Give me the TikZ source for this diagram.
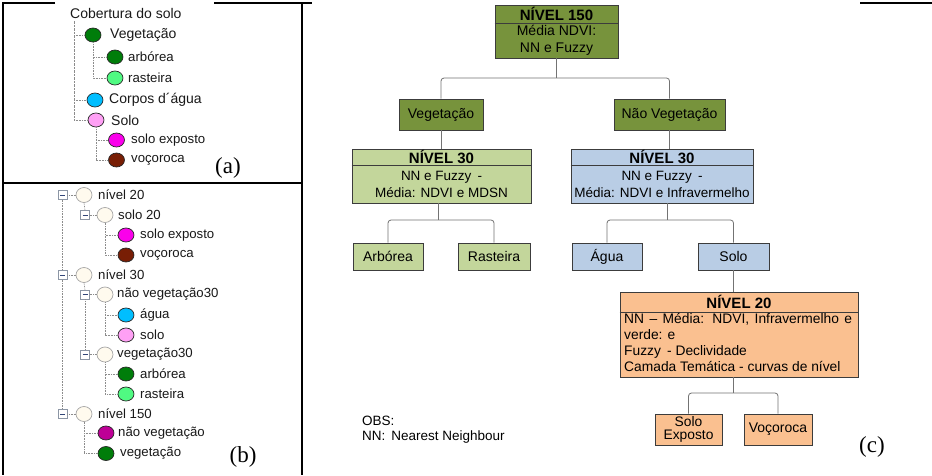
\documentclass[tikz,border=0pt]{standalone}
\usepackage{fontspec}
\setmainfont{Liberation Sans}
\newfontfamily\capserif{Liberation Serif}
\usetikzlibrary{shapes.geometric}
\definecolor{oliv}{RGB}{119,147,60}
\definecolor{lgreen}{RGB}{195,214,155}
\definecolor{lblue}{RGB}{185,205,229}
\definecolor{lorange}{RGB}{250,192,144}
\definecolor{boxline}{RGB}{60,60,60}
\definecolor{connc}{RGB}{115,115,115}
\definecolor{cveg}{RGB}{0,125,10}
\definecolor{craste}{RGB}{80,250,130}
\definecolor{cagua}{RGB}{0,190,255}
\definecolor{csolo}{RGB}{255,160,245}
\definecolor{cexp}{RGB}{250,0,235}
\definecolor{cvoc}{RGB}{120,30,5}
\definecolor{cnveg}{RGB}{190,0,150}
\definecolor{cempty}{RGB}{255,250,238}
\definecolor{treeline}{RGB}{140,140,140}
\definecolor{mboxc}{RGB}{140,150,165}
\definecolor{minusc}{RGB}{50,70,120}
\newcommand\fsA{\fontsize{14}{16}\selectfont}
\newcommand\fsB{\fontsize{13.2}{15}\selectfont}
\newcommand\fsBox{\fontsize{14}{16.5}\selectfont}
\newcommand\fsBody{\fontsize{13.5}{16.5}\selectfont}
\newcommand\fsHead{\fontsize{15}{17}\selectfont\bfseries}
\newcommand\fsCap{\capserif\fontsize{23}{26}\selectfont}
\tikzset{
  box/.style={draw=boxline, line width=0.8pt, inner sep=0pt, font=\fsBox, align=center},
  conn/.style={draw=connc, line width=0.8pt, rounded corners=3pt},
  tree/.style={draw=treeline, line width=0.6pt, dash pattern=on 0.8pt off 0.8pt},
  treedash/.style={draw=treeline, line width=0.9pt, dash pattern=on 2.5pt off 1pt},
  dotn/.style={ellipse, draw=black!85, line width=0.7pt, minimum width=16pt, minimum height=14pt, inner sep=0pt},
  emptyn/.style={ellipse, draw=black!35, fill=cempty, line width=0.7pt, minimum width=16pt, minimum height=15pt, inner sep=0pt},
  mbox/.style={draw=mboxc, fill=white, line width=0.6pt, minimum size=9pt, inner sep=0pt,
    path picture={\draw[minusc, line width=0.9pt] ([xshift=2pt]path picture bounding box.west) -- ([xshift=-2pt]path picture bounding box.east);}},
  lab/.style={anchor=west, inner sep=0pt, text=black!90},
  frame/.style={draw=black, line width=1.3pt},
}
\begin{document}
\begin{tikzpicture}[x=1pt,y=-1pt]
\useasboundingbox (0,0) rectangle (932,475);
\fill[white] (0,0) rectangle (932,475);

% ---------- frames ----------
\draw[frame] (55,3) -- (3,3) -- (3,475);
\draw[frame] (214,3) -- (312,3);
\draw[frame] (302,3) -- (302,475);
\draw[frame] (3,183) -- (302,183);
\draw[frame] (860,3) -- (932,3);

% ---------- panel (a) ----------
\node[lab, font=\fsA] (root) at (70,13) {Cobertura do solo};
\node[dotn, fill=cveg] (aveg) at (93,35) {};
\node[lab, font=\fsA] (avegt) at (110,35) {Vegetação};
\node[dotn, fill=cveg] (aarb) at (115,57) {};
\node[lab, font=\fsB] (aarbt) at (128,57) {arbórea};
\node[dotn, fill=craste] (aras) at (115,78) {};
\node[lab, font=\fsB] (arast) at (128,78) {rasteira};
\node[dotn, fill=cagua] (aagua) at (95,100) {};
\node[lab, font=\fsA] (aaguat) at (109,100) {Corpos d´água};
\node[dotn, fill=csolo] (asolo) at (96,120) {};
\node[lab, font=\fsA] (asolot) at (111,120) {Solo};
\node[dotn, fill=cexp] (aexp) at (116.5,140) {};
\node[lab, font=\fsB] (aexpt) at (131,140) {solo exposto};
\node[dotn, fill=cvoc] (avoc) at (116.5,160) {};
\node[lab, font=\fsB] (avoct) at (131,160) {voçoroca};
\node[font=\fsCap, inner sep=0pt] (capa) at (228,168) {(a)};

\draw[treedash] ([xshift=4pt,yshift=-3pt]root.south west) -- ([xshift=4pt]root.south west |- asolo.west);
\draw[tree] ([xshift=4pt]root.south west |- aveg.west) -- (aveg.west);
\draw[tree] ([xshift=4pt]root.south west |- aagua.west) -- (aagua.west);
\draw[tree] ([xshift=4pt]root.south west |- asolo.west) -- (asolo.west);
\draw[tree] (aveg.south) |- (aarb.west);
\draw[tree] (aveg.south) |- (aras.west);
\draw[tree] (asolo.south) |- (aexp.west);
\draw[tree] (asolo.south) |- (avoc.west);

% ---------- panel (b) ----------
\node[mbox] (mb20) at (62.5,195) {};
\node[emptyn] (c20) at (84,195) {};
\node[lab, font=\fsB] (t20) at (98,195) {nível 20};
\node[mbox] (ms20) at (85,215) {};
\node[emptyn] (cs20) at (105,215) {};
\node[lab, font=\fsB] (ts20) at (118,215) {solo 20};
\node[dotn, fill=cexp] (bexp) at (126,235) {};
\node[lab, font=\fsB] (bexpt) at (140,235) {solo exposto};
\node[dotn, fill=cvoc] (bvoc) at (126,255) {};
\node[lab, font=\fsB] (bvoct) at (140,255) {voçoroca};

\node[mbox] (mb30) at (62.5,275) {};
\node[emptyn] (c30) at (84,275) {};
\node[lab, font=\fsB] (t30) at (98,275) {nível 30};
\node[mbox] (mnv30) at (85,294.5) {};
\node[emptyn] (cnv30) at (105,294.5) {};
\node[lab, font=\fsB] (tnv30) at (117,294.5) {não vegetação30};
\node[dotn, fill=cagua] (bagua) at (126,315) {};
\node[lab, font=\fsB] (baguat) at (140,315) {água};
\node[dotn, fill=csolo] (bsolo) at (126,335) {};
\node[lab, font=\fsB] (bsolot) at (140,335) {solo};
\node[mbox] (mv30) at (85,354.5) {};
\node[emptyn] (cv30) at (105,354.5) {};
\node[lab, font=\fsB] (tv30) at (117,354.5) {vegetação30};
\node[dotn, fill=cveg] (barb) at (126,374) {};
\node[lab, font=\fsB] (barbt) at (140,374) {arbórea};
\node[dotn, fill=craste] (bras) at (126,394) {};
\node[lab, font=\fsB] (brast) at (140,394) {rasteira};

\node[mbox] (mb150) at (62.5,414) {};
\node[emptyn] (c150) at (84,414) {};
\node[lab, font=\fsB] (t150) at (98,414) {nível 150};
\node[dotn, fill=cnveg] (bnveg) at (106,433) {};
\node[lab, font=\fsB] (bnvegt) at (118,433) {não vegetação};
\node[dotn, fill=cveg] (bvegc) at (106,453.5) {};
\node[lab, font=\fsB] (bvegt) at (120,453.5) {vegetação};
\node[font=\fsCap, inner sep=0pt] (capb) at (243,457) {(b)};

\draw[tree] (mb20.south) -- (mb30.north);
\draw[tree] (mb30.south) -- (mb150.north);
\draw[tree] (mb20.east) -- (c20.west);
\draw[tree] (mb30.east) -- (c30.west);
\draw[tree] (mb150.east) -- (c150.west);
\draw[tree] (ms20.east) -- (cs20.west);
\draw[tree] (mnv30.east) -- (cnv30.west);
\draw[tree] (mv30.east) -- (cv30.west);
\draw[tree] (c20.south) -- (ms20.north);
\draw[tree] (c30.south) -- (mnv30.north);
\draw[tree] (mnv30.south) -- (mv30.north);
\draw[tree] (cs20.south) |- (bexp.west);
\draw[tree] (cs20.south) |- (bvoc.west);
\draw[tree] (cnv30.south) |- (bagua.west);
\draw[tree] (cnv30.south) |- (bsolo.west);
\draw[tree] (cv30.south) |- (barb.west);
\draw[tree] (cv30.south) |- (bras.west);
\draw[tree] (c150.south) |- (bnveg.west);
\draw[tree] (c150.south) |- (bvegc.west);

% ---------- panel (c) ----------
\node[box, fill=oliv, minimum width=123pt, minimum height=53pt] (n150) at (556.5,31.5) {};
\draw[boxline, line width=0.8pt] (n150.west |- 0,23) -- (n150.east |- 0,23);
\node[font=\fsHead, inner sep=0pt] (n150h) at (556.5,14) {NÍVEL 150};
\node[font=\fsBox, align=center, inner sep=0pt] (n150b) at (556.5,40.5) {Média NDVI:\\NN e Fuzzy};

\node[box, fill=oliv, minimum width=84pt, minimum height=31pt] (veg) at (441,114.5) {Vegetação};
\node[box, fill=oliv, minimum width=111pt, minimum height=31pt] (nveg) at (669.5,114.5) {Não Vegetação};

\node[box, fill=lgreen, minimum width=179pt, minimum height=54pt] (n30g) at (441.5,176) {};
\draw[boxline, line width=0.8pt] (n30g.west |- 0,165) -- (n30g.east |- 0,165);
\node[font=\fsHead, inner sep=0pt] (n30gh) at (441.5,157) {NÍVEL 30};
\node[font=\fsBody, align=center, inner sep=0pt] (n30gb) at (441.5,184.5) {NN e Fuzzy \,-\\Média: NDVI e MDSN};

\node[box, fill=lblue, minimum width=182pt, minimum height=54pt] (n30b) at (662,176) {};
\draw[boxline, line width=0.8pt] (n30b.west |- 0,165) -- (n30b.east |- 0,165);
\node[font=\fsHead, inner sep=0pt] (n30bh) at (662,157) {NÍVEL 30};
\node[font=\fsBody, align=center, inner sep=0pt] (n30bb) at (662,184.5) {NN e Fuzzy \,-\\Média: NDVI e Infravermelho};

\node[box, fill=lgreen, minimum width=70pt, minimum height=27pt] (arb) at (388,256.5) {Arbórea};
\node[box, fill=lgreen, minimum width=72pt, minimum height=27pt] (ras) at (494,256.5) {Rasteira};
\node[box, fill=lblue, minimum width=70pt, minimum height=27pt] (agua) at (607,256.5) {Água};
\node[box, fill=lblue, minimum width=71pt, minimum height=27pt] (solo) at (733.5,256.5) {Solo};

\node[box, fill=lorange, minimum width=238pt, minimum height=85pt] (n20) at (739,334.5) {};
\draw[boxline, line width=0.8pt] (n20.west |- 0,312) -- (n20.east |- 0,312);
\node[font=\fsHead, inner sep=0pt] (n20h) at (739,302) {NÍVEL 20};
\node[font=\fontsize{13.8}{15.7}\selectfont, align=left, inner sep=0pt, anchor=west] (n20b) at (624,342.5)
  {\makebox[228pt][s]{NN – Média: NDVI, Infravermelho e}\\verde: e\\Fuzzy \,- Declividade\\Camada Temática - curvas de nível};

\node[box, fill=lorange, minimum width=67pt, minimum height=31pt, font=\fontsize{13.8}{13}\selectfont] (sexp) at (688.5,429.5) {Solo\\Exposto};
\node[box, fill=lorange, minimum width=68pt, minimum height=31pt] (voc) at (778,429.5) {Voçoroca};

\coordinate (b1) at (556,78);
\draw[conn] (veg.north) |- (b1) -| (nveg.north);
\draw[conn] (n150.south) -- (n150.south |- b1);
\draw[conn] (veg.south) -- (veg.south |- n30g.north);
\draw[conn] (nveg.south) -- (nveg.south |- n30b.north);

\coordinate (b2g) at (438,220);
\draw[conn] (arb.north) |- (b2g) -| (ras.north);
\draw[conn] (n30g.south -| b2g) -- (b2g);
\coordinate (b2b) at (667,220);
\draw[conn] (agua.north) |- (b2b) -| (solo.north);
\draw[conn] (n30b.south -| b2b) -- (b2b);

\draw[conn] (solo.south) -- (solo.south |- n20.north);
\coordinate (b3) at (733.5,393);
\draw[conn] (sexp.north) |- (b3) -| (voc.north);
\draw[conn] (n20.south -| b3) -- (b3);

\node[font=\fontsize{13.5}{15}\selectfont, align=left, anchor=west, inner sep=0pt] (obs) at (362,430) {OBS:\\NN: \,Nearest Neighbour};
\node[font=\fsCap, inner sep=0pt] (capc) at (872,447) {(c)};
\end{tikzpicture}
\end{document}
